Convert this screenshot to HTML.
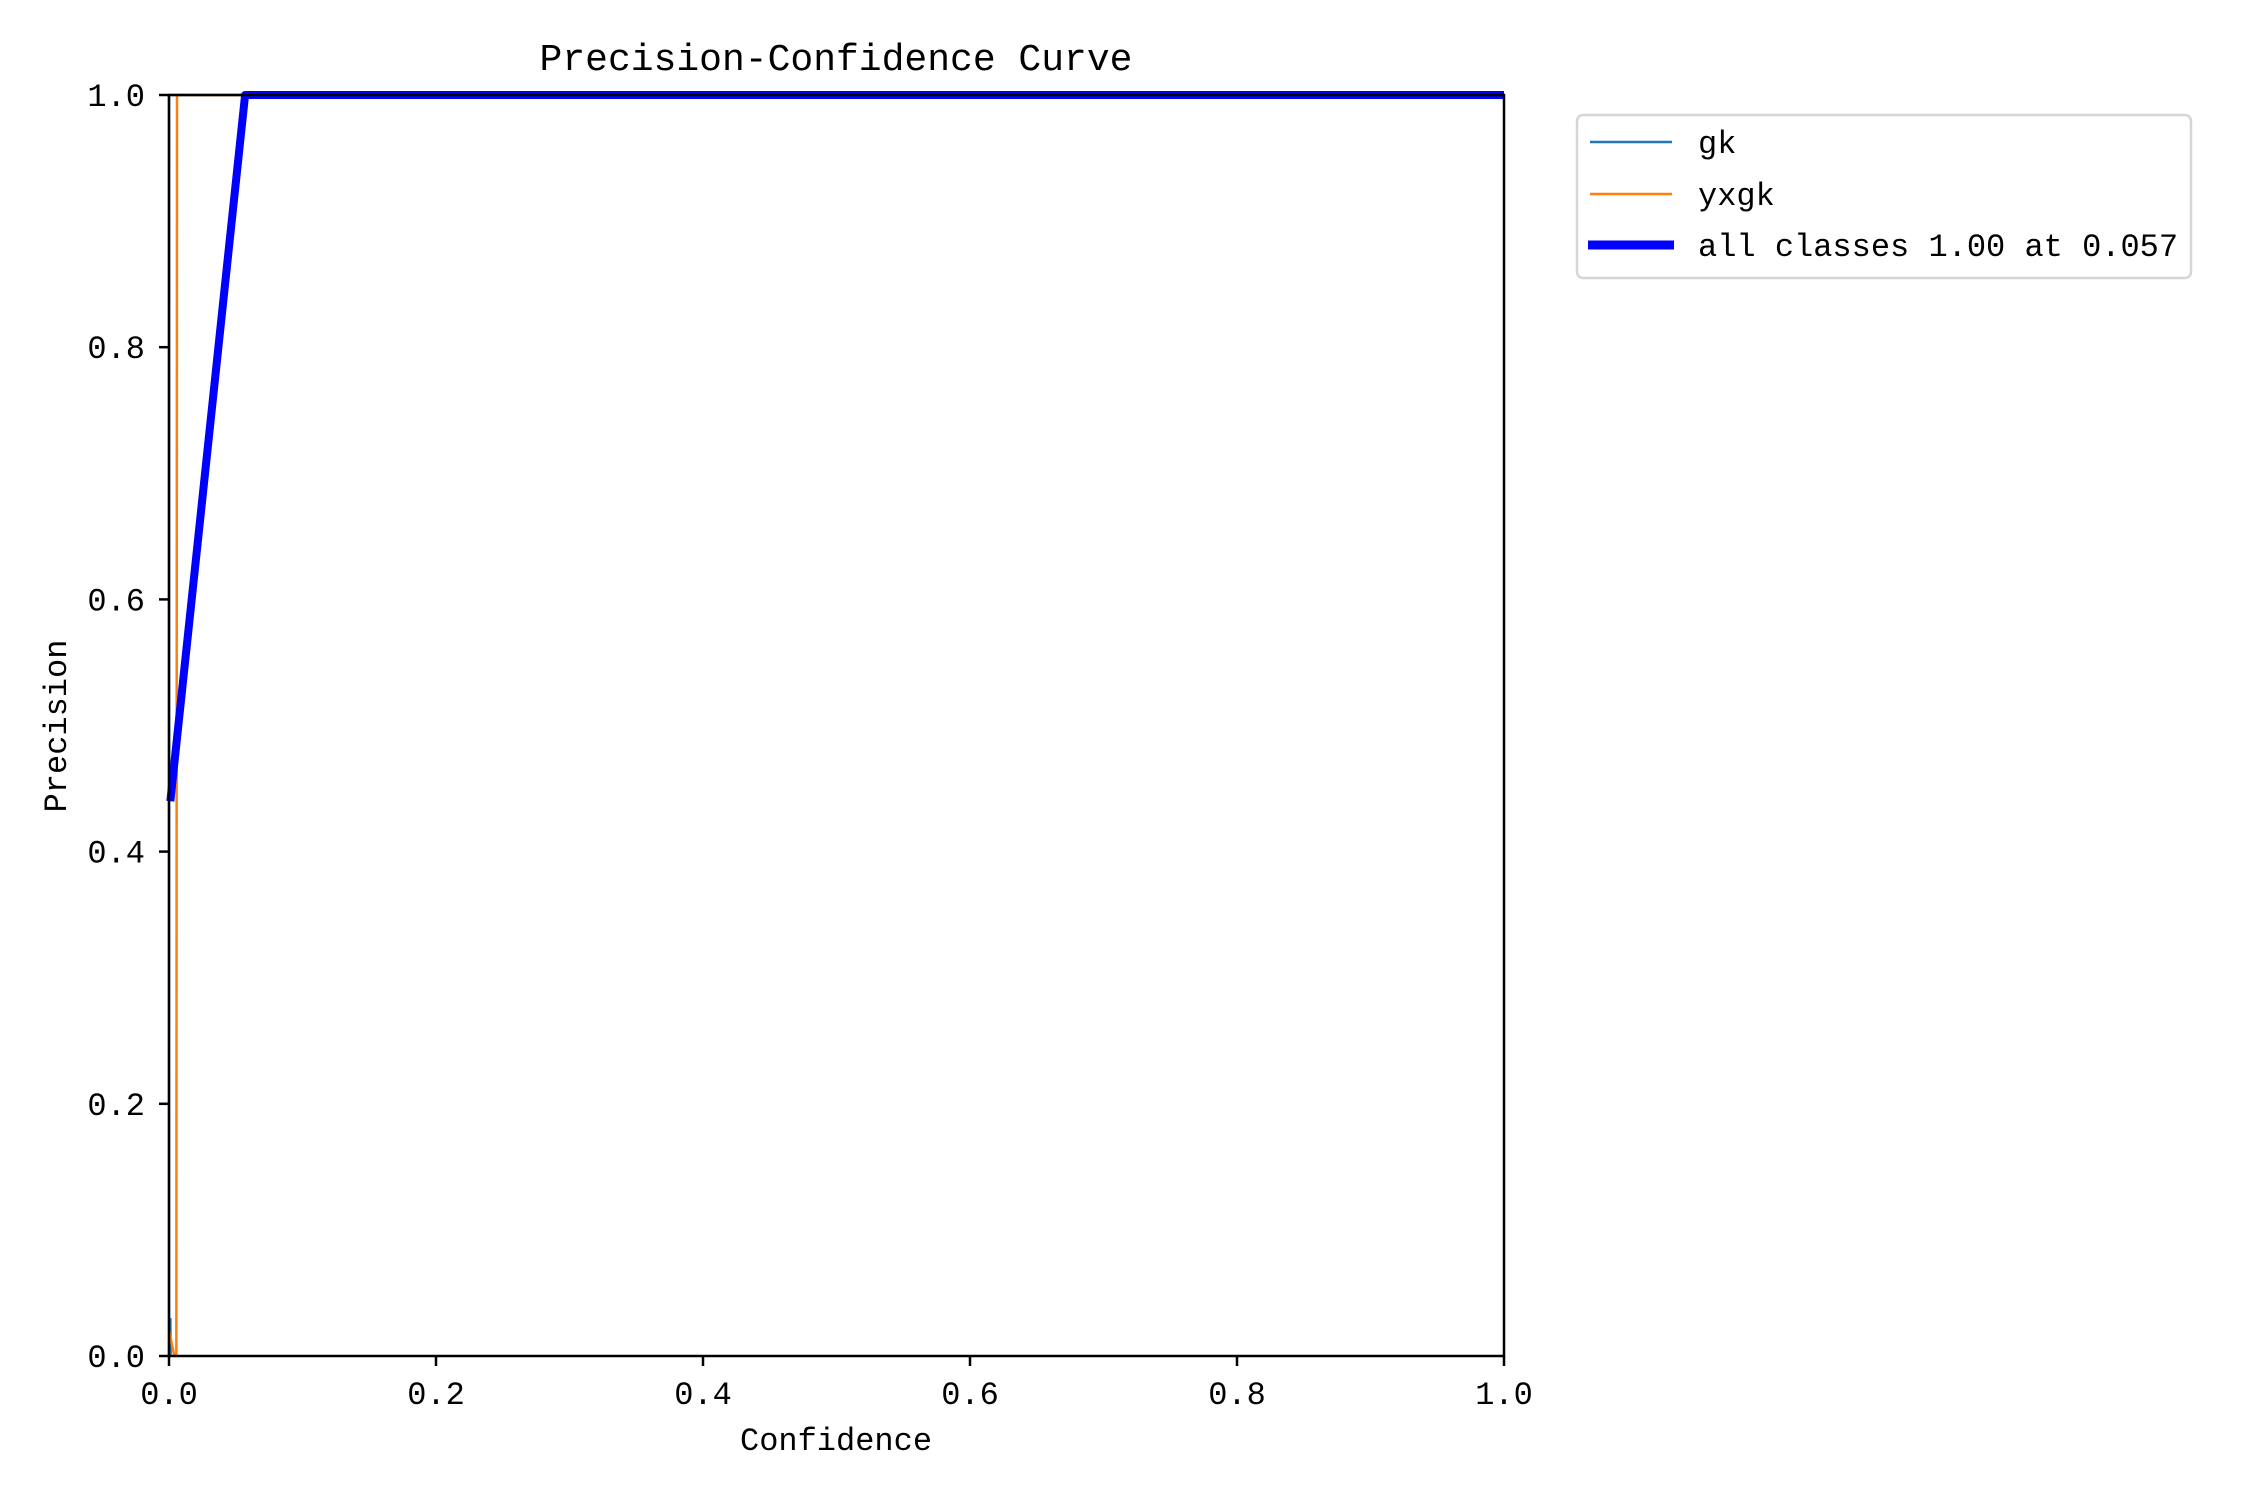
<!DOCTYPE html>
<html><head><meta charset="utf-8"><style>
html,body{margin:0;padding:0;background:#fff;}
svg text{font-family:"Liberation Mono","Noto Sans CJK SC",monospace;fill:#000;}
</style></head><body>
<svg id="chart" width="2250" height="1500" xmlns="http://www.w3.org/2000/svg">
<text x="836" y="70" font-size="38" text-anchor="middle">Precision-Confidence Curve</text>
<g id="plot"></g>
<g id="axes"></g>
<text x="836" y="1450" font-size="32" text-anchor="middle">Confidence</text>
<text x="66" y="726" font-size="32" text-anchor="middle" transform="rotate(-90 66 726)">Precision</text>
<g>
<rect x="1577" y="115" width="614" height="163" rx="6" fill="#fff" stroke="#d6d6d6" stroke-width="2.5"/>
<g><line x1="1590" y1="142" x2="1672" y2="142" stroke="#1f77b4" stroke-width="2.5"/><text x="1698" y="153" font-size="32">gk</text></g>
<g><line x1="1590" y1="194" x2="1672" y2="194" stroke="#ff7f0e" stroke-width="2.5"/><text x="1698" y="205" font-size="32">yxgk</text></g>
<g><line x1="1588" y1="245" x2="1674" y2="245" stroke="#0000ff" stroke-width="9"/><text x="1698" y="256" font-size="32">all classes 1.00 at 0.057</text></g>
</g>
</svg>
<script>
const gkX=[0.001,0.0012,0,0,1];
const gkY=[0.03,0.0,0.0,1,1];
const yxgkX=[0,0.004,0.0055,0.006,1];
const yxgkY=[0.02,0,0,1,1];
const allX=[0.001,0.057,1];
const allY=[0.44,1.0,1.0];
const xTicks=[0,0.2,0.4,0.6,0.8,1.0];
const yTicks=[0,0.2,0.4,0.6,0.8,1.0];
const xTickLabels=["0.0","0.2","0.4","0.6","0.8","1.0"];
const yTickLabels=["0.0","0.2","0.4","0.6","0.8","1.0"];
const L=169,R=1504,T=95,B=1356;
const sx=v=>L+v*(R-L), sy=v=>B-v*(B-T);
const NS="http://www.w3.org/2000/svg";
const plot=document.getElementById('plot'), axes=document.getElementById('axes');
function line(xs,ys,color,w,name){
  const p=document.createElementNS(NS,'polyline');
  p.setAttribute('points',xs.map((x,i)=>sx(x)+','+sy(ys[i])).join(' '));
  p.setAttribute('fill','none');p.setAttribute('stroke',color);p.setAttribute('stroke-width',w);
  p.setAttribute('stroke-linejoin','round');
  
  
  plot.appendChild(p);
}
line(gkX,gkY,'#1f77b4',2.5,'series-gk');
line(yxgkX,yxgkY,'#ff7f0e',2.5,'series-yxgk');
line(allX,allY,'#0000ff',8,'series-all-classes');
const frame=document.createElementNS(NS,'rect');
frame.setAttribute('x',L);frame.setAttribute('y',T);frame.setAttribute('width',R-L);frame.setAttribute('height',B-T);
frame.setAttribute('fill','none');frame.setAttribute('stroke','#000');frame.setAttribute('stroke-width','2.5');


axes.appendChild(frame);
xTicks.forEach((v,i)=>{
  const t=document.createElementNS(NS,'line');
  t.setAttribute('x1',sx(v));t.setAttribute('x2',sx(v));t.setAttribute('y1',B);t.setAttribute('y2',B+10);
  t.setAttribute('stroke','#000');t.setAttribute('stroke-width','2.5');
  
  
  axes.appendChild(t);
  const tx=document.createElementNS(NS,'text');
  tx.setAttribute('x',sx(v));tx.setAttribute('y',B+48);tx.setAttribute('font-size','32');tx.setAttribute('text-anchor','middle');
  tx.textContent=xTickLabels[i];
  
  
  axes.appendChild(tx);
});
yTicks.forEach((v,i)=>{
  const t=document.createElementNS(NS,'line');
  t.setAttribute('x1',L-10);t.setAttribute('x2',L);t.setAttribute('y1',sy(v));t.setAttribute('y2',sy(v));
  t.setAttribute('stroke','#000');t.setAttribute('stroke-width','2.5');
  
  
  axes.appendChild(t);
  const tx=document.createElementNS(NS,'text');
  tx.setAttribute('x',L-24);tx.setAttribute('y',sy(v)+11);tx.setAttribute('font-size','32');tx.setAttribute('text-anchor','end');
  tx.textContent=yTickLabels[i];
  
  
  axes.appendChild(tx);
});
</script>
</body></html>
